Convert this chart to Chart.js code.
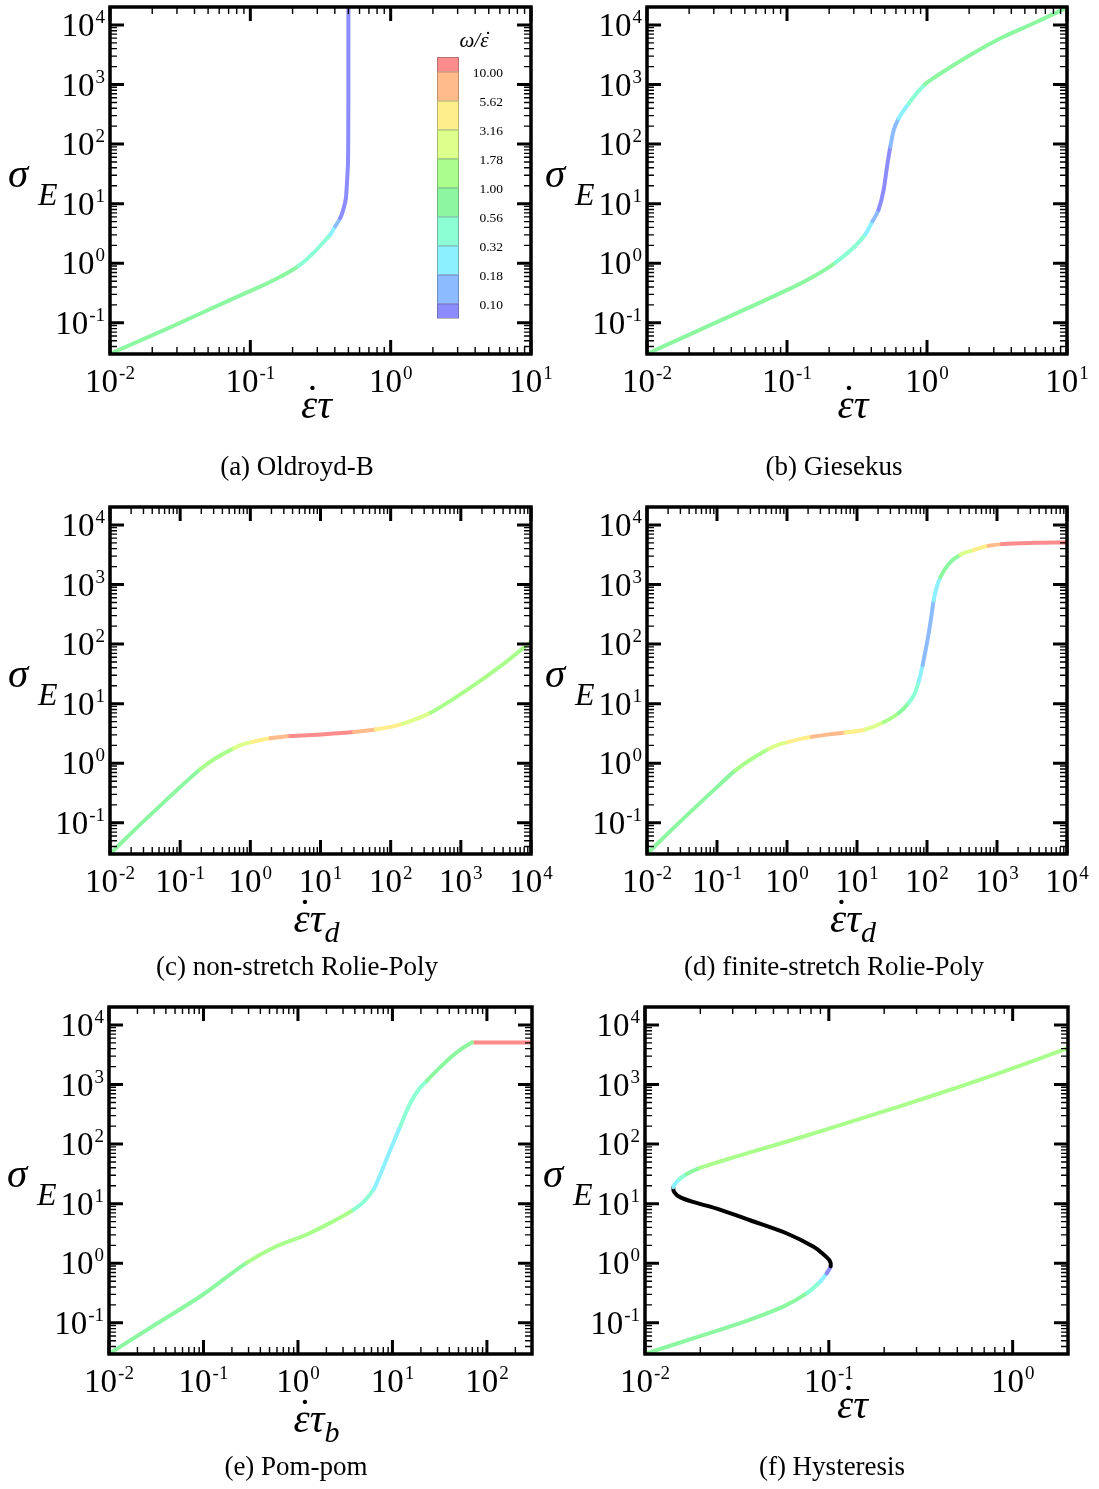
<!DOCTYPE html>
<html>
<head>
<meta charset="utf-8">
<script src="https://cdn.jsdelivr.net/npm/chart.js@4.4.1/dist/chart.umd.min.js"></script>
<style>
body { margin: 0; background: #fff; width: 1099px; height: 1489px; position: relative; overflow: hidden; }
canvas { position: absolute; }
</style>
</head>
<body>
<canvas id="panelA" width="580" height="500" style="left:0;top:0;width:580px;height:500px"></canvas>
<canvas id="panelB" width="579" height="500" style="left:520px;top:0;width:579px;height:500px"></canvas>
<canvas id="panelC" width="580" height="500" style="left:0;top:500px;width:580px;height:500px"></canvas>
<canvas id="panelD" width="579" height="500" style="left:520px;top:500px;width:579px;height:500px"></canvas>
<canvas id="panelE" width="580" height="489" style="left:0;top:1000px;width:580px;height:489px"></canvas>
<canvas id="panelF" width="579" height="489" style="left:520px;top:1000px;width:579px;height:489px"></canvas>
<script>
// colour levels of omega/epsdot, from lowest (<0.10) to highest (>10)
var levelColors = ['#8c8cff', '#8cbcff', '#8cf0ff', '#8cffd4', '#8cf7a0',
                   '#aaff8c', '#ddff8c', '#ffee8c', '#ffbb8c', '#ff8c8c'];
var levelTicks = ['0.10', '0.18', '0.32', '0.56', '1.00', '1.78', '3.16', '5.62', '10.00'];
var unstableColor = '#000000';

var yMin = 0.03;
var yMax = 2e4;

// (a) Oldroyd-B
var oldroydX = [0.01, 0.0254, 0.0518, 0.0946, 0.139, 0.221, 0.283, 0.345, 0.372, 0.403, 0.437, 0.452, 0.478, 0.4955, 0.4995, 0.4999];
var oldroydY = [0.0302, 0.0794, 0.171, 0.324, 0.489, 0.904, 1.51, 2.5, 3.04, 4.17, 5.75, 7.0, 11.7, 41.7, 540, 19500];
var oldroydC = [4, 4, 4, 4, 4, 3, 3, 3, 2, 1, 0, 0, 0, 0, 0, 0];

// (b) Giesekus
var giesekusX = [0.01, 0.0247, 0.092, 0.1426, 0.2213, 0.362, 0.408, 0.451, 0.49, 0.518, 0.547, 0.578, 0.627, 0.74, 0.849, 0.973, 1.148, 1.98, 3.44, 5.94, 10];
var giesekusY = [0.0302, 0.0794, 0.324, 0.541, 1.02, 3.04, 5.08, 7.94, 17.0, 41.7, 90.4, 171, 269, 479, 724, 1023, 1349, 3020, 6166, 10965, 19500];
var giesekusC = [4, 4, 4, 4, 3, 2, 1, 0, 0, 0, 1, 1, 2, 3, 3, 4, 4, 4, 4, 4, 4];

// (c) non-stretch Rolie-Poly
var rpNsX = [0.01, 0.0316, 0.1, 0.193, 0.316, 0.578, 0.794, 1.057, 1.413, 1.93, 2.69, 3.72, 10, 29.9, 61.1, 100, 147, 372, 1259, 3981, 10000];
var rpNsY = [0.0302, 0.112, 0.398, 0.794, 1.202, 1.778, 2.089, 2.28, 2.455, 2.63, 2.754, 2.858, 3.041, 3.334, 3.681, 4.074, 4.571, 7.079, 17.38, 45.71, 109.6];
var rpNsC = [4, 4, 4, 5, 5, 6, 6, 7, 7, 8, 8, 9, 9, 8, 7, 7, 6, 5, 5, 5, 5];

// (d) finite-stretch Rolie-Poly
var rpFsX = [0.01, 0.0316, 0.1, 0.183, 0.316, 0.547, 0.794, 1.057, 1.585, 2.275, 3.981, 6.81, 13.15, 24.0, 39.4, 54.7,
             66.1, 76.0, 86.7, 95.5, 105.7, 114.8, 124.5, 138, 154.9, 204, 299, 465, 760, 1178, 3532, 10000];
var rpFsY = [0.0302, 0.112, 0.398, 0.759, 1.189, 1.738, 2.089, 2.291, 2.57, 2.78, 3.055, 3.273, 3.69, 4.887, 6.98, 10.26,
             14.45, 23.55, 44.67, 79.43, 150.7, 281.8, 540.8, 912, 1324, 2208, 3162, 3784, 4467, 4764, 5012, 5070];
var rpFsC = [4, 4, 4, 5, 5, 6, 6, 7, 7, 8, 8, 7, 6, 5, 4, 3,
             3, 2, 1, 1, 1, 1, 2, 2, 4, 4, 6, 7, 8, 9, 9, 9];

// (e) Pom-pom (stretch saturates at index 21, after which the stress is flat)
var pomX = [0.01, 0.0316, 0.1, 0.288, 0.55, 1.242, 2.193, 3.882, 5.012, 6.32, 7.943, 9.48, 10.96, 12.1, 13.8, 15.85, 19.05, 23.2, 30.2, 40.9, 53.7, 69.5, 75.3, 300];
var pomY = [0.0302, 0.0955, 0.302, 1.026, 1.824, 3.041, 4.764, 7.943, 10.96, 17.38, 39.81, 79.43, 138, 199.5, 331.1, 524.8, 831.8, 1167, 1778, 2818, 3981, 5082, 5082, 5082];
var pomC = [4, 4, 4, 5, 5, 5, 5, 3, 3, 2, 2, 2, 2, 3, 3, 3, 3, 4, 4, 4, 4, 8, 9, 9];

// (f) Hysteresis: lower branch, unstable branch (black), upper branch
var hystX = [0.01, 0.01995, 0.0373, 0.0568, 0.076, 0.0899, 0.0973, 0.1023,
             0.1012, 0.0933, 0.0826, 0.0592, 0.0373, 0.0246, 0.0182, 0.01549, 0.01445, 0.01426,
             0.01462, 0.01549, 0.01687, 0.01995, 0.0251, 0.0373, 0.07, 0.1614, 0.3724, 0.861, 2.0];
var hystY = [0.0302, 0.0598, 0.1135, 0.1892, 0.316, 0.494, 0.676, 0.891,
             1.096, 1.413, 1.892, 3.162, 5.272, 8.26, 10.72, 12.88, 15.49, 18.92,
             21.88, 26.3, 31.62, 39.81, 50.12, 72.61, 129.1, 288.4, 660.7, 1585, 4074];
var hystC = [4, 4, 4, 4, 3, 2, 0, -1,
             -1, -1, -1, -1, -1, -1, -1, -1, -1, 2,
             2, 3, 4, 5, 5, 5, 5, 5, 5, 5, 5];

var serif = '"Liberation Serif", "DejaVu Serif", serif';

function makePoints(xs, ys, from, to){
    var pts = [];
    for(var i = from; i <= to; i++) pts.push({x: xs[i], y: ys[i]});
    return pts;
}

function segColor(codes, offset){
    return function(ctx){
        var c = codes[ctx.p0DataIndex + offset];
        return c < 0 ? unstableColor : levelColors[c];
    };
}

function drawTicks(ctx, scale, ca, horizontal){
    var lo = Math.floor(Math.log10(scale.min) + 1e-9);
    var hi = Math.ceil(Math.log10(scale.max) - 1e-9);
    for(var d = lo; d <= hi; d++){
        for(var m = 1; m <= 9; m++){
            var v = m * Math.pow(10, d);
            if(v < scale.min * 0.999 || v > scale.max * 1.001) continue;
            var p = scale.getPixelForValue(v);
            var len = m == 1 ? 14 : 7;
            ctx.lineWidth = m == 1 ? 3 : 1.4;
            ctx.beginPath();
            if(horizontal){
                ctx.moveTo(p, ca.bottom); ctx.lineTo(p, ca.bottom - len);
                ctx.moveTo(p, ca.top); ctx.lineTo(p, ca.top + len);
            }
            else{
                ctx.moveTo(ca.left, p); ctx.lineTo(ca.left + len, p);
                ctx.moveTo(ca.right, p); ctx.lineTo(ca.right - len, p);
            }
            ctx.stroke();
        }
    }
}

function drawPow(ctx, exp, x, y, align){
    ctx.font = '33px ' + serif;
    var w1 = ctx.measureText('10').width;
    ctx.font = '19px ' + serif;
    var w2 = ctx.measureText(exp).width;
    var x0 = align == 'center' ? x - (w1 + w2 + 1) / 2 : x - w1 - w2 - 1;
    ctx.font = '33px ' + serif;
    ctx.fillText('10', x0, y);
    ctx.font = '19px ' + serif;
    ctx.fillText(exp, x0 + w1 + 1, y - 13);
}

function drawTickLabels(ctx, scale, ca, horizontal){
    var lo = Math.ceil(Math.log10(scale.min) - 1e-9);
    var hi = Math.floor(Math.log10(scale.max) + 1e-9);
    ctx.textAlign = 'left';
    ctx.textBaseline = 'alphabetic';
    for(var d = lo; d <= hi; d++){
        var p = scale.getPixelForValue(Math.pow(10, d));
        if(horizontal) drawPow(ctx, String(d), p, ca.bottom + 38, 'center');
        else drawPow(ctx, String(d), ca.left - 5, p + 11, 'right');
    }
}

// dot accent over a glyph: centred on the glyph ink, 'lift' px above baseline
function drawDot(ctx, size, glyphX, glyph, baseline, lift, shift){
    ctx.font = 'italic ' + size + 'px ' + serif;
    var g = ctx.measureText(glyph);
    var gc = glyphX + (g.actualBoundingBoxRight - g.actualBoundingBoxLeft) / 2;
    var d = ctx.measureText('\u02D9');
    var dc = (d.actualBoundingBoxRight - d.actualBoundingBoxLeft) / 2;
    var dm = (d.actualBoundingBoxAscent - d.actualBoundingBoxDescent) / 2;
    ctx.fillText('\u02D9', gc + shift - dc, baseline - lift + dm);
}

function drawParts(ctx, parts, cx, baseline){
    var total = 0;
    parts.forEach(function(pt){
        ctx.font = 'italic ' + pt.size + 'px ' + serif;
        pt.w = ctx.measureText(pt.t).width;
        total += pt.w;
    });
    var x = cx - total / 2;
    parts.forEach(function(pt){
        ctx.font = 'italic ' + pt.size + 'px ' + serif;
        ctx.fillText(pt.t, x, baseline + pt.dy);
        if(pt.dot) drawDot(ctx, pt.size, x, pt.t, baseline, pt.dot, 3);
        x += pt.w;
    });
}

function drawColorbar(ctx, ca){
    var left = ca.left + 327, top = ca.top + 50, w = 22, unit = 29;
    var y = top;
    for(var i = levelColors.length - 1; i >= 0; i--){
        var h = (i == 0 || i == levelColors.length - 1) ? unit / 2 : unit;
        ctx.fillStyle = levelColors[i];
        ctx.fillRect(left, y, w, h);
        ctx.strokeStyle = 'rgba(60,60,60,0.35)';
        ctx.lineWidth = 1;
        ctx.strokeRect(left + 0.5, y + 0.5, w - 1, h);
        y += h;
    }
    ctx.fillStyle = '#000';
    ctx.font = '13.5px ' + serif;
    ctx.textAlign = 'right';
    ctx.textBaseline = 'middle';
    for(var k = 0; k < levelTicks.length; k++){
        var yy = top + unit / 2 + (levelTicks.length - 1 - k) * unit + 2;
        ctx.fillText(levelTicks[k], ca.left + 393, yy);
    }
    ctx.textAlign = 'left';
    ctx.textBaseline = 'alphabetic';
    drawParts(ctx, [{t: '\u03C9', size: 21, dy: 0}, {t: '/', size: 21, dy: 0},
                    {t: '\u03B5', size: 21, dy: 0, dot: 15}], ca.left + 364, ca.top + 40);
}

var framePlugin = {
    id: 'frame',
    afterDatasetsDraw: function(chart, args, opts){
        var ctx = chart.ctx;
        var ca = chart.chartArea;
        var xs = chart.scales.x, ys = chart.scales.y;
        ctx.save();
        ctx.strokeStyle = '#000';
        ctx.fillStyle = '#000';
        ctx.lineCap = 'butt';
        drawTicks(ctx, xs, ca, true);
        drawTicks(ctx, ys, ca, false);
        ctx.lineWidth = 3.5;
        ctx.strokeRect(ca.left, ca.top, ca.right - ca.left, ca.bottom - ca.top);
        drawTickLabels(ctx, xs, ca, true);
        drawTickLabels(ctx, ys, ca, false);

        // y title sigma_E
        ctx.textAlign = 'left';
        ctx.font = 'italic 41px ' + serif;
        ctx.fillText('\u03C3', ca.left - 102, ca.top + 180);
        ctx.font = 'italic 32px ' + serif;
        ctx.fillText('E', ca.left - 72, ca.top + 198);

        // x title
        var parts = [{t: '\u03B5', size: 41, dy: 0, dot: 31}, {t: '\u03C4', size: 41, dy: 0}];
        if(opts.sub) parts.push({t: opts.sub, size: 30, dy: 10});
        drawParts(ctx, parts, (ca.left + ca.right) / 2 - 4, ca.bottom + opts.titleDy);

        // caption
        ctx.font = '27px ' + serif;
        ctx.textAlign = 'center';
        ctx.fillText(opts.caption, ca.left + 187, ca.bottom + 121);

        if(opts.colorbar) drawColorbar(ctx, ca);
        ctx.restore();
    }
};

function createPanel(canvasId, xs, ys, codes, xmin, xmax, info){
    var canvas = document.getElementById(canvasId);
    var ctx = canvas.getContext('2d');
    var cuts = [0].concat(info.splits || [], [xs.length - 1]);
    var datasets = [];
    for(var k = 0; k < cuts.length - 1; k++){
        datasets.push({
            data: makePoints(xs, ys, cuts[k], cuts[k + 1]),
            borderColor: levelColors[4],
            borderWidth: 4,
            borderCapStyle: 'round',
            borderJoinStyle: 'round',
            pointRadius: 0,
            fill: false,
            cubicInterpolationMode: info.monotone ? 'monotone' : 'default',
            tension: 0.3,
            segment: { borderColor: segColor(codes, cuts[k]) }
        });
    }
    var chart = new Chart(ctx, {
        type: 'line',
        data: { datasets: datasets },
        options: {
            responsive: false,
            animation: false,
            events: [],
            layout: { padding: { top: 7, right: info.padRight, left: 0, bottom: 0 } },
            plugins: {
                legend: { display: false },
                tooltip: { enabled: false },
                frame: info
            },
            scales: {
                x: {
                    type: 'logarithmic', min: xmin, max: xmax,
                    ticks: { display: false }, grid: { display: false }, border: { display: false },
                    afterFit: function(s){ s.height = info.xh; }
                },
                y: {
                    type: 'logarithmic', min: yMin, max: yMax,
                    ticks: { display: false }, grid: { display: false }, border: { display: false },
                    afterFit: function(s){ s.width = info.yw; }
                }
            }
        },
        plugins: [framePlugin]
    });
    return chart;
}

createPanel('panelA', oldroydX, oldroydY, oldroydC, 0.01, 10,
    {yw: 110, padRight: 49, xh: 146, monotone: true, sub: '', titleDy: 64, caption: '(a) Oldroyd-B', colorbar: true});
createPanel('panelB', giesekusX, giesekusY, giesekusC, 0.01, 10,
    {yw: 127, padRight: 32, xh: 146, monotone: true, sub: '', titleDy: 64, caption: '(b) Giesekus'});
createPanel('panelC', rpNsX, rpNsY, rpNsC, 0.01, 10000,
    {yw: 110, padRight: 49, xh: 146, monotone: true, sub: 'd', titleDy: 78, caption: '(c) non-stretch Rolie-Poly'});
createPanel('panelD', rpFsX, rpFsY, rpFsC, 0.01, 10000,
    {yw: 127, padRight: 32, xh: 146, monotone: true, sub: 'd', titleDy: 78, caption: '(d) finite-stretch Rolie-Poly'});
createPanel('panelE', pomX, pomY, pomC, 0.01, 300,
    {yw: 109, padRight: 48, xh: 135, monotone: true, sub: 'b', titleDy: 78, caption: '(e) Pom-pom', splits: [21]});
createPanel('panelF', hystX, hystY, hystC, 0.01, 2,
    {yw: 125, padRight: 31, xh: 135, monotone: false, sub: '', titleDy: 64, caption: '(f) Hysteresis'});
</script>
</body>
</html>
